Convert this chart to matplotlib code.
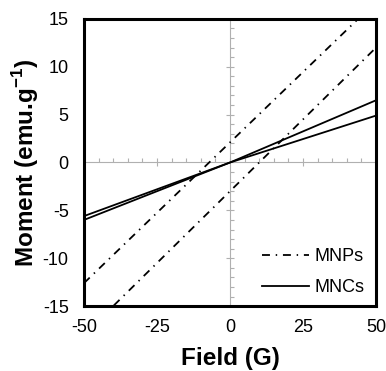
import numpy as np
import matplotlib
matplotlib.use("Agg")
import matplotlib.pyplot as plt

plt.rcParams["font.family"] = ["Liberation Sans", "DejaVu Sans"]
plt.rcParams["axes.unicode_minus"] = False
plt.rcParams["mathtext.fontset"] = "custom"
plt.rcParams["mathtext.rm"] = "Liberation Sans"
plt.rcParams["mathtext.bf"] = "Liberation Sans:bold"

# field (G) end points of each branch, moment (emu/g)
field = [-50, 0, 50]
mnps_up = [-12.6, 2.1, 16.8]
mnps_down = [-18.0, -3.0, 12.0]
mncs_a = [-6.0, 0.0, 6.5]
mncs_b = [-5.6, 0.0, 4.9]

XLIM = (-50, 50)
YLIM = (-15, 15)
xticks = [-50, -25, 0, 25, 50]
yticks = [-15, -10, -5, 0, 5, 10, 15]

fig = plt.figure(figsize=(3.86, 3.71), dpi=100)
pos = [0.2176, 0.175, 0.7565, 0.774]

# grey axes crossing at the origin
axz = fig.add_axes(pos)
axz.set_xlim(XLIM); axz.set_ylim(YLIM)
for s in ("top", "right"):
    axz.spines[s].set_visible(False)
for s in ("left", "bottom"):
    axz.spines[s].set_position("zero")
    axz.spines[s].set_color("#b0b0b0")
    axz.spines[s].set_linewidth(0.8)
axz.set_xticks([-25, 25])
axz.set_xticks(np.arange(-45, 50, 5), minor=True)
axz.set_yticks([-10, -5, 5, 10])
axz.set_yticks(np.arange(-14, 15, 1), minor=True)
axz.tick_params(which="major", direction="inout", length=6, width=0.8, color="#b0b0b0",
                labelbottom=False, labelleft=False)
axz.tick_params(which="minor", direction="in", length=3, width=0.8, color="#b0b0b0")
axz.patch.set_visible(False)

# main frame with data
ax = fig.add_axes(pos)
ax.patch.set_visible(False)
ls = (0, (4.4, 3.2, 0.8, 3.2))
ax.plot(field, mnps_up, color="black", lw=1.3, linestyle=ls, label="MNPs")
ax.plot(field, mnps_down, color="black", lw=1.3, linestyle=ls)
ax.plot(field, mncs_a, color="black", lw=1.3, label="MNCs")
ax.plot(field, mncs_b, color="black", lw=1.3)
ax.set_xlim(XLIM); ax.set_ylim(YLIM)
ax.set_xticks(xticks); ax.set_yticks(yticks)
ax.tick_params(length=0, labelsize=13, pad=9)
ax.tick_params(axis="y", pad=11)
for s in ax.spines.values():
    s.set_linewidth(2.2)
ax.set_xlabel("Field (G)", fontsize=17.5, fontweight="bold", labelpad=8)
ax.set_ylabel("Moment (emu.g$^{\\mathbf{-1}}$)", fontsize=17.5, fontweight="bold", labelpad=1)
ax.legend(loc="lower right", bbox_to_anchor=(0.96, 0.035), frameon=False, fontsize=13,
          handlelength=2.6, handletextpad=0.3, labelspacing=0.75,
          borderpad=0, borderaxespad=0)

fig.savefig("out.png", dpi=100)
